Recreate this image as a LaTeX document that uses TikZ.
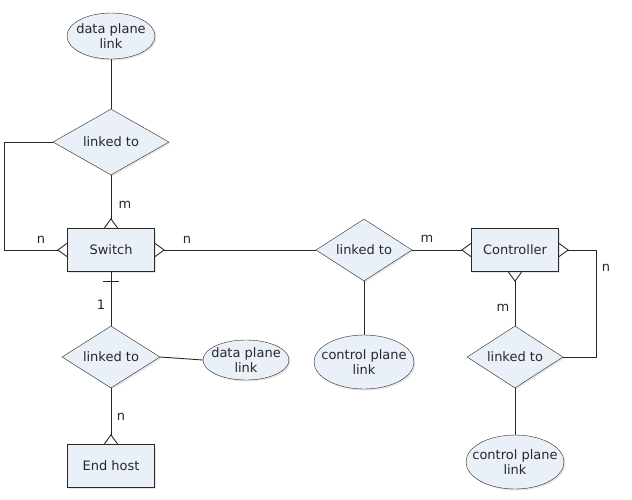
\documentclass[tikz,border=0pt]{standalone}
\usepackage{fontspec}
\setmainfont{DejaVu Sans}
\usepackage{xcolor}
\usetikzlibrary{arrows.meta,shapes.geometric,shadows}
\definecolor{erfill}{RGB}{234, 240, 248}
\definecolor{erline}{RGB}{40, 40, 40}

\tikzset{
  erbase/.style={draw=erline, fill=erfill, text=erline, font=\fontsize{13}{15}\selectfont,
    drop shadow={shadow xshift=1.5pt, shadow yshift=-1.5pt, opacity=0.2}},
  entity/.style={erbase, rectangle, minimum width=87pt, minimum height=43pt, inner sep=0pt},
  relation/.style={erbase, diamond, aspect=1.55, inner sep=0pt},
  attrib/.style={erbase, ellipse, inner xsep=-10pt, inner ysep=-5pt, align=center,
    font=\fontsize{13}{15}\selectfont},
  card/.style={text=erline, font=\fontsize{13}{15}\selectfont},
  link/.style={draw=erline, line width=0.9pt},
  crow/.tip={Straight Barb[reversed, length=9pt, width=13pt, line width=0.9pt]}
}

\begin{document}
\begin{tikzpicture}[x=1pt, y=-1pt]
      \useasboundingbox (0,0) rectangle (632,499);
      % entities
      \node[entity] (sw)  at (111,250) {Switch};
      \node[entity] (ctl) at (515,250) {Controller};
      \node[entity] (eh)  at (111,466) {End host};
      % relations
      \node[relation, minimum width=116pt, minimum height=66pt] (ltTop)  at (111,142) {linked to};
      \node[relation, minimum width=96pt, minimum height=62pt]  (ltMid)  at (364,250) {linked to};
      \node[relation, minimum width=96pt, minimum height=62pt]  (ltCtl)  at (515,357) {linked to};
      \node[relation, minimum width=98pt, minimum height=62pt]  (ltHost) at (111,357) {linked to};
      % attributes
      \node[attrib, minimum width=88pt, minimum height=46pt]  (dplTop)  at (111,36)  {data plane\\link};
      \node[attrib, minimum width=100pt, minimum height=54pt] (cplMid)  at (364,362) {control plane\\link};
      \node[attrib, minimum width=98pt, minimum height=54pt]  (cplCtl)  at (515,462) {control plane\\link};
      \node[attrib, minimum width=86pt, minimum height=40pt]  (dplHost) at (246,360) {data plane\\link};
      % loop corners
      \coordinate (loopSw)  at (4,142);
      \coordinate (loopCtl) at (596,250);

      \draw[link] (dplTop) -- (ltTop);
      \draw[link, -crow] (ltTop) -- (sw);
      \draw[link, -crow] (ltTop.west) -- (loopSw) |- (sw.west);
      \draw[link, crow-] (sw.east) -- (ltMid.west);
      \draw[link, -crow] (ltMid.east) -- (ctl.west);
      \draw[link] (ltMid) -- (cplMid);
      \draw[link, crow-] (ctl.south) -- (ltCtl.north);
      \draw[link, crow-] (ctl.east) -- (loopCtl) |- (ltCtl.east);
      \draw[link] (ltCtl) -- (cplCtl);
      \draw[link] (sw.south) -- (ltHost.north);
      \draw[link] ([xshift=-8pt, yshift=-10pt]sw.south) -- ([xshift=8pt, yshift=-10pt]sw.south);
      \draw[link] (ltHost.east) -- (dplHost.west);
      \draw[link, -crow] (ltHost.south) -- (eh.north);

      % cardinalities
      \node[card] (cTop)   at (125,205) {m};
      \node[card] (cLoop)  at (41,240)  {n};
      \node[card] (cSwR)   at (187,240) {n};
      \node[card] (cCtlL)  at (427,239) {m};
      \node[card] (cCtlB)  at (503,308) {m};
      \node[card] (cCtlR)  at (606,268) {n};
      \node[card] (cOne)   at (101,305) {1};
      \node[card] (cHost)  at (121,417) {n};
    \end{tikzpicture}
\end{document}
